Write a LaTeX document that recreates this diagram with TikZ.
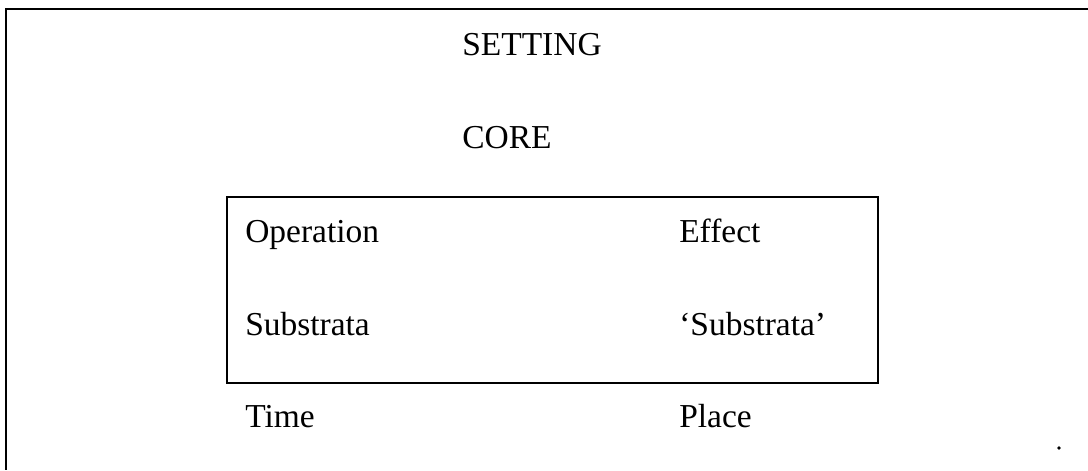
\documentclass[tikz,border=0pt]{standalone}
\usepackage{fontspec}
\setmainfont{Liberation Serif}
\usetikzlibrary{positioning}

\begin{document}
\begin{tikzpicture}[
    x=0.025cm, y=-0.025cm,
    lbl/.style={anchor=base west, inner sep=0pt, font=\fontsize{23.8}{28}\selectfont},
    corebox/.style={draw, line width=1pt, minimum width=16.275cm, minimum height=4.65cm, inner sep=0pt},
    frame/.style={line width=1.2pt}
]
\useasboundingbox (0,0) rectangle (1088,470);

% outer frame, open to the right and below
\draw[frame] (1088,9) -| (6,470);

\node[lbl] (setting) at (462,55) {SETTING};
\node[lbl] (core) at (462,148) {CORE};

% the core box
\node[corebox] (box) at (552.5,290) {};
\node[lbl] (oper) at (245,242) {Operation};
\node[lbl] (effect) at (679,242) {Effect};
\node[lbl] (sub) at (245,335) {Substrata};
\node[lbl] (subq) at (679,335) {`Substrata'};

\node[lbl] (time) at (245,427) {Time};
\node[lbl] (place) at (679,427) {Place};

\fill (1059,448) circle (1.8);
\end{tikzpicture}
\end{document}
